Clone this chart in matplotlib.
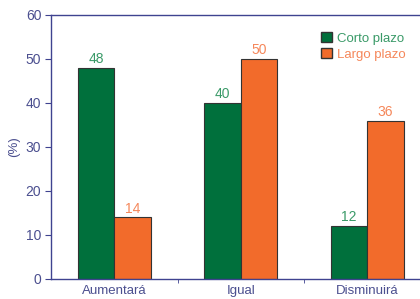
import matplotlib
matplotlib.use("Agg")
import matplotlib.pyplot as plt
import numpy as np
from matplotlib.patches import Patch

categories = ["Aumentará", "Igual", "Disminuirá"]
corto = [48, 40, 12]
largo = [14, 50, 36]
yticks = [0, 10, 20, 30, 40, 50, 60]

green = "#00703C"
orange = "#F26B2B"
green_txt = "#3A9A68"
orange_txt = "#F5875A"
axis_col = "#3F4390"
tick_txt = "#4B4F8F"

plt.rcParams['font.family'] = ['Liberation Sans', 'DejaVu Sans']
fig = plt.figure(figsize=(4.2, 2.99), dpi=100)
ax = fig.add_axes([51/420, 20/299, 1 - 51/420, 264/299])

x = np.arange(len(categories)) + 0.5
w = 0.29
ax.bar(x - w/2, corto, w, color=green, edgecolor="#333333", linewidth=0.8, label="Corto plazo")
ax.bar(x + w/2, largo, w, color=orange, edgecolor="#333333", linewidth=0.8, label="Largo plazo")
for xi, v in zip(x - w/2, corto):
    ax.text(xi, v + 0.4, str(v), ha="center", va="bottom", color=green_txt, fontsize=10)
for xi, v in zip(x + w/2, largo):
    ax.text(xi, v + 0.4, str(v), ha="center", va="bottom", color=orange_txt, fontsize=10)

ax.set_xlim(0, 369/126.5)
ax.set_ylim(0, 60)
ax.set_yticks(yticks)
ax.set_yticklabels([str(t) for t in yticks], color=tick_txt, fontsize=10)
ax.set_xticks(x)
ax.set_xticklabels(categories, color=tick_txt, fontsize=9.5)
ax.tick_params(axis='x', length=0, pad=4)
ax.set_xticks([1, 2], minor=True)
ax.tick_params(axis='x', which='minor', length=3, color=axis_col, direction='out')
ax.tick_params(axis='y', length=4, color=axis_col, direction='out', pad=3)
ax.set_ylabel("(%)", color=tick_txt, fontsize=9.5, labelpad=4)

for s in ["left", "bottom", "top"]:
    ax.spines[s].set_color(axis_col)
    ax.spines[s].set_linewidth(1.0)
ax.spines["right"].set_visible(False)

handles = [Patch(facecolor=green, edgecolor="#333333"), Patch(facecolor=orange, edgecolor="#333333")]
leg = ax.legend(handles, ["Corto plazo", "Largo plazo"], loc="upper left",
                bbox_to_anchor=(0.70, 0.98), frameon=False, fontsize=9.5,
                handlelength=0.8, handleheight=0.8, handletextpad=0.4, labelspacing=0.25)
for t, c in zip(leg.get_texts(), [green_txt, orange_txt]):
    t.set_color(c)

fig.savefig("out.png", dpi=100)
